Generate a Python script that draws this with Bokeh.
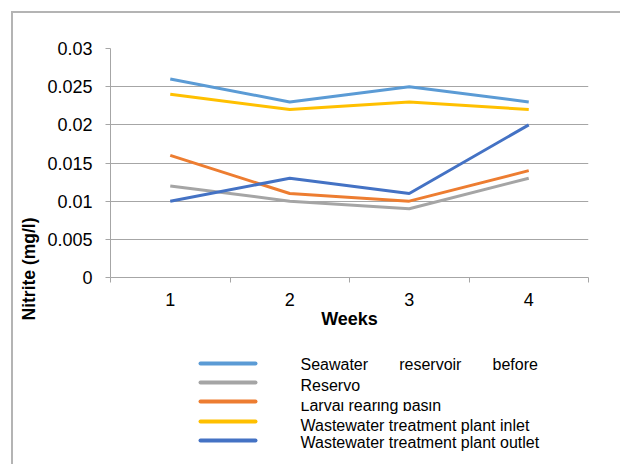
from bokeh.plotting import figure
from bokeh.layouts import column
from bokeh.models import FixedTicker, Title, Range1d, InlineStyleSheet
from bokeh.core.properties import value
from bokeh.embed import file_html
from bokeh.resources import INLINE

# Nitrite concentration per sampling week
weeks = [1, 2, 3, 4]
seawater_before = [0.026, 0.023, 0.025, 0.023]
reservoir = [0.012, 0.010, 0.009, 0.013]
larval_basin = [0.016, 0.011, 0.010, 0.014]
wwtp_inlet = [0.024, 0.022, 0.023, 0.022]
wwtp_outlet = [0.010, 0.013, 0.011, 0.020]

GAP = "\u00a0" * 7
series_names = [
    "Seawater" + GAP + "reservoir" + GAP + "before",
    "Reservo",
    "Larval rearing basin",
    "Wastewater treatment plant inlet",
    "Wastewater treatment plant outlet",
]
series_colors = ["#5B9BD5", "#A5A5A5", "#ED7D31", "#FFC000", "#4472C4"]

y_ticks = [0, 0.005, 0.01, 0.015, 0.02, 0.025, 0.03]
y_tick_labels = ["0", "0.005", "0.01", "0.015", "0.02", "0.025", "0.03"]
x_tick_labels = ["1", "2", "3", "4"]

FONT = "Liberation Sans"
GRID = "#A6A6A6"
W, H_MAIN, H_LEG = 620, 345, 119
BORDER_L, BORDER_R = 110, 32

p = figure(width=W, height=H_MAIN, output_backend="svg", toolbar_location=None,
           x_range=Range1d(0.5, 4.5), y_range=Range1d(0, 0.03),
           min_border_left=BORDER_L, min_border_right=BORDER_R, min_border_top=48,
           min_border_bottom=68)
p.outline_line_color = None
p.background_fill_color = "white"
p.border_fill_color = "white"

for vals, color in zip([seawater_before, reservoir, larval_basin, wwtp_inlet, wwtp_outlet],
                       series_colors):
    p.line(weeks, vals, line_color=color, line_width=3)

# x axis: labels at week centres, tick marks at category boundaries
xa = p.xaxis[0]
xa.ticker = FixedTicker(ticks=weeks, minor_ticks=[0.5, 1.5, 2.5, 3.5, 4.5])
xa.major_label_overrides = {w: t for w, t in zip(weeks, x_tick_labels)}
xa.major_tick_line_color = None
xa.major_tick_out = 5
xa.minor_tick_line_color = GRID
xa.minor_tick_out = 5
xa.minor_tick_in = 0
xa.axis_line_color = GRID
xa.major_label_text_font = FONT
xa.major_label_text_font_size = "18px"
xa.major_label_text_color = "black"
xa.major_label_standoff = 10
xa.axis_label = "Weeks"
xa.axis_label_text_font = FONT
xa.axis_label_text_font_size = "18px"
xa.axis_label_text_font_style = "bold"
xa.axis_label_text_color = "black"
xa.axis_label_standoff = 0

ya = p.yaxis[0]
ya.ticker = FixedTicker(ticks=y_ticks, minor_ticks=[])
ya.major_label_overrides = {v: t for v, t in zip(y_ticks, y_tick_labels)}
ya.major_tick_line_color = GRID
ya.major_tick_out = 5
ya.major_tick_in = 0
ya.minor_tick_line_color = None
ya.axis_line_color = GRID
ya.major_label_text_font = FONT
ya.major_label_text_font_size = "18px"
ya.major_label_text_color = "black"
ya.major_label_standoff = 13

p.xgrid.grid_line_color = None
p.ygrid.grid_line_color = GRID
p.ygrid.grid_line_width = 1

p.add_layout(Title(text="Nitrite (mg/l)", align="left", offset=-43,
                   vertical_align="bottom", standoff=12,
                   text_font=FONT, text_font_size="17.5px",
                   text_font_style="bold", text_color="black"), "left")

# legend strip below the chart; its ranges are in page pixels
leg = figure(width=W, height=H_LEG, output_backend="svg", toolbar_location=None,
             x_range=Range1d(BORDER_L, W - BORDER_R), y_range=Range1d(H_MAIN + H_LEG, H_MAIN),
             min_border_left=BORDER_L, min_border_right=BORDER_R,
             min_border_top=0, min_border_bottom=0,
             x_axis_type=None, y_axis_type=None)
leg.outline_line_color = None
leg.xgrid.visible = False
leg.ygrid.visible = False
leg.border_fill_color = "white"
leg.background_fill_color = "white"

swatch_x0, swatch_x1, label_x = 200, 255, 300
swatch_rows = [363, 382, 401, 421, 440]
label_rows = [364, 385, 405, 425, 442]

leg.segment(x0=[swatch_x0] * 5, x1=[swatch_x1] * 5, y0=swatch_rows, y1=swatch_rows,
            line_color=series_colors, line_width=4, line_cap="round")
leg.text(x=[label_x] * 5, y=label_rows, text=series_names,
         text_font=value(FONT), text_font_size="16px", text_color="black",
         text_align="left", text_baseline="middle")
# the third entry is partly hidden under the row above it
leg.quad(left=[label_x - 4], right=[label_x + 185], top=[391.5], bottom=[401.5],
         fill_color="white", line_color=None)

layout = column(p, leg, spacing=0)
# thin grey chart border along the top and left
layout.stylesheets = [InlineStyleSheet(css="""
:host { position: relative; }
:host::after {
  content: ""; position: absolute; left: 11px; top: 11px;
  width: 800px; height: 800px; pointer-events: none;
  border-left: 2px solid #B4B4B4; border-top: 2px solid #B4B4B4;
}
""")]

open("out.html", "w").write(file_html(layout, INLINE))
